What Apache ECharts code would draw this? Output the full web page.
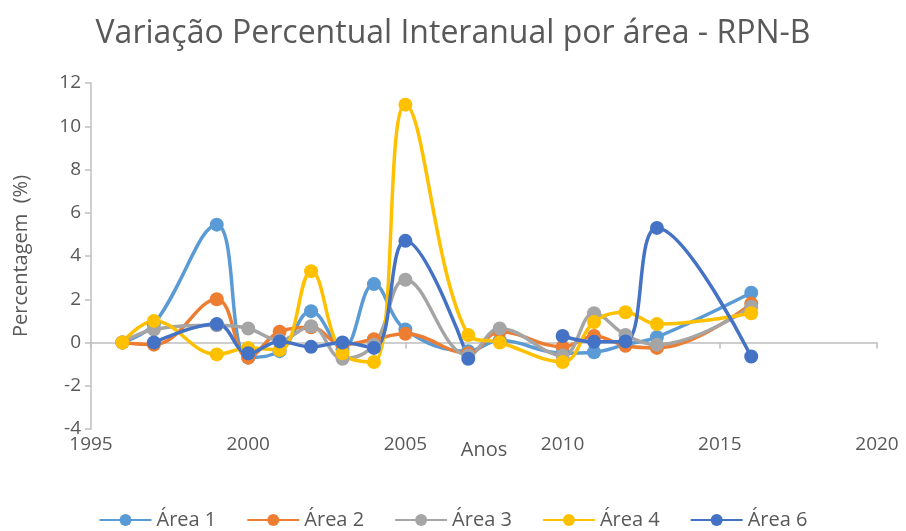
<!DOCTYPE html>
<html>
<head>
    <meta charset="utf-8">
    <title>Variação Percentual Interanual</title>
    <script src="https://cdn.jsdelivr.net/npm/echarts@6/dist/echarts.min.js"></script>
    <style>
        html, body { margin: 0; padding: 0; background: #fff; }
    </style>
</head>
<body>
<div id="main" style="width: 906px;height:531px;"></div>
<script type="text/javascript">
    // anos (eixo x)
    var anos = [1996, 1997, 1999, 2000, 2001, 2002, 2003, 2004, 2005, 2007, 2008, 2010, 2011, 2012, 2013, 2016];

    // variação percentual por área (null = sem valor)
    var area1 = [0, 0.85, 5.45, -0.7, -0.4, 1.45, -0.3, 2.7, 0.6, -0.4, 0.1, -0.5, -0.45, -0.1, 0.25, 2.3];
    var area2 = [0, -0.1, 2.0, -0.7, 0.5, 0.7, -0.1, 0.15, 0.4, -0.5, 0.5, -0.2, 0.3, -0.15, -0.25, 1.8];
    var area3 = [0, 0.6, 0.8, 0.65, 0.1, 0.75, -0.75, -0.1, 2.9, -0.6, 0.65, -0.6, 1.35, 0.35, -0.1, 1.65];
    var area4 = [0, 1.0, -0.55, -0.25, -0.35, 3.3, -0.5, -0.9, 11.0, 0.35, 0, -0.9, 0.95, 1.4, 0.85, 1.35];
    var area6 = [null, 0, 0.85, -0.5, 0.05, -0.2, 0, -0.25, 4.7, -0.75, null, 0.3, 0.03, 0.05, 5.3, -0.65];

    var nomes = ['Área 1', 'Área 2', 'Área 3', 'Área 4', 'Área 6'];
    var cores = ['#5B9BD5', '#ED7D31', '#A5A5A5', '#FFC000', '#4472C4'];
    var valores = [area1, area2, area3, area4, area6];

    var textColor = '#595959';
    var fontFamily = '"Open Sans", "Noto Sans", sans-serif';

    var myChart = echarts.init(document.getElementById('main'), null, {renderer: 'canvas'});

    function pares(vals) {
        return anos.map(function (a, i) { return [a, vals[i]]; });
    }

    var series = nomes.map(function (nome, i) {
        return {
            name: nome,
            type: 'line',
            data: pares(valores[i]),
            smooth: 0.4,
            symbol: 'circle',
            symbolSize: 14,
            connectNulls: false,
            color: cores[i],
            lineStyle: { width: 3.5, color: cores[i] },
            itemStyle: { color: cores[i] },
            emphasis: { disabled: true }
        };
    });

    var option = {
        animation: false,
        textStyle: { fontFamily: fontFamily },
        title: {
            text: 'Variação Percentual Interanual por área - RPN-B',
            left: 'center',
            top: 13,
            textStyle: { fontSize: 32, fontWeight: 'normal', color: textColor, fontFamily: fontFamily }
        },
        grid: {
            left: 91,
            right: 29,
            top: 83,
            bottom: 102,
            outerBoundsMode: 'none'
        },
        legend: {
            top: 505,
            left: 'center',
            itemWidth: 52,
            itemHeight: 15,
            itemGap: 30,
            textStyle: { fontSize: 20, color: textColor },
            data: nomes
        },
        xAxis: {
            type: 'value',
            min: 1995,
            max: 2020,
            interval: 5,
            name: 'Anos',
            nameLocation: 'middle',
            nameGap: 11,
            nameMoveOverlap: false,
            nameTextStyle: { fontSize: 20, color: textColor },
            axisLine: { onZero: true, lineStyle: { color: '#BFBFBF', width: 1.5 } },
            axisTick: { show: true, inside: false, length: 6, lineStyle: { color: '#BFBFBF', width: 1.5 } },
            axisLabel: {
                fontSize: 19, color: textColor, margin: 6,
                formatter: function (v) { return String(v); }
            },
            splitLine: { show: false }
        },
        yAxis: {
            type: 'value',
            min: -4,
            max: 12,
            interval: 2,
            name: 'Percentagem  (%)',
            nameLocation: 'middle',
            nameGap: 60,
            nameTextStyle: { fontSize: 20, color: textColor },
            axisLine: { show: true, lineStyle: { color: '#BFBFBF', width: 1.5 } },
            axisTick: { show: true, length: 6, lineStyle: { color: '#BFBFBF', width: 1.5 } },
            axisLabel: { fontSize: 19, color: textColor, margin: 10 },
            splitLine: { show: false }
        },
        series: series
    };

    myChart.setOption(option);
</script>
</body>
</html>
